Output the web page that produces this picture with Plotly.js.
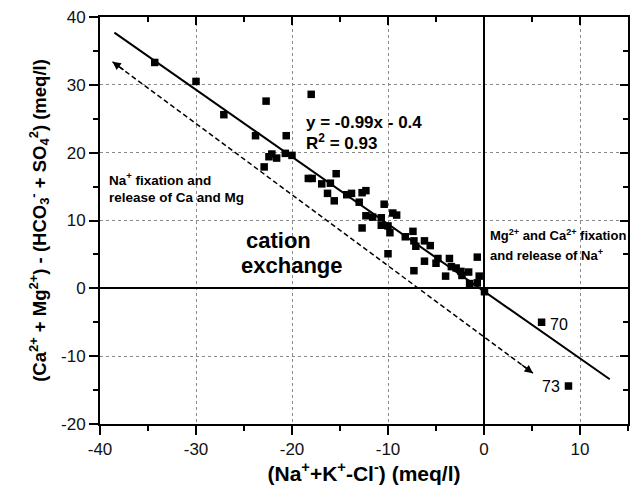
<!DOCTYPE html>
<html>
<head>
<meta charset="utf-8">
<script src="https://cdn.plot.ly/plotly-3.0.1.min.js"></script>
<style>html,body{margin:0;padding:0;background:#fff;}#chart{width:635px;height:492px;}</style>
</head>
<body>
<div id="chart"></div>
<script>
// Samples: (Na+ + K+ - Cl-) vs (Ca2+ + Mg2+) - (HCO3- + SO4 2-)
const sampleX = [-34.3,-30.0,-27.1,-22.7,-23.8,-20.6,-18.0,-22.9,-22.1,-21.6,-22.4,-20.7,-20.0,-18.3,-17.9,
  -15.4,-16.9,-16.0,-16.3,-15.6,-14.3,-13.8,-13.0,-12.7,-12.3,-10.4,-12.3,-11.6,-10.7,-9.5,-9.1,
  -10.0,-10.7,-12.7,-9.8,-8.2,-7.4,-7.3,-7.1,-6.2,-5.6,-10.0,-6.2,-7.3,-5.0,-4.8,-3.6,-3.4,-2.9,
  -4.0,-2.4,-1.6,-2.3,-0.7,-0.5,-1.5,-0.7,0.05,6.0,8.8];
const sampleY = [33.3,30.5,25.6,27.6,22.5,22.5,28.6,17.9,19.8,19.2,19.4,19.9,19.6,16.2,16.2,
  16.9,15.4,15.5,14.0,12.9,13.8,14.0,12.7,14.1,14.4,12.4,10.7,10.5,10.4,11.1,10.8,
  9.2,9.3,8.9,8.2,7.6,8.4,7.0,6.2,7.0,6.3,5.1,4.0,2.6,3.7,4.4,4.4,3.2,3.0,
  1.8,2.5,2.4,1.9,4.6,1.8,0.7,0.8,-0.5,-5.0,-14.4];

// Fitted regression line y = -0.99x - 0.4 (end points)
const fitX = [-38.5, 13.1];
const fitY = [37.7, -13.4];

// Dashed "cation exchange" double arrow (end points)
const arrowX = [-38.7, 5.1];
const arrowY = [33.4, -12.5];

// Tick labels
const xTickVals = [-40, -30, -20, -10, 0, 10];
const xTickText = ['-40', '-30', '-20', '-10', '0', '10'];
const yTickVals = [-20, -10, 0, 10, 20, 30, 40];
const yTickText = ['-20', '-10', '0', '10', '20', '30', '40'];

const FONT = '"Liberation Sans", Arial, Helvetica, sans-serif';

const traces = [
  {x: fitX, y: fitY, mode: 'lines', line: {color: '#000', width: 2}, hoverinfo: 'skip', showlegend: false},
  {x: arrowX, y: arrowY, mode: 'lines', line: {color: '#000', width: 1.5, dash: '5px,3px'}, hoverinfo: 'skip', showlegend: false},
  {x: sampleX, y: sampleY, mode: 'markers', marker: {symbol: 'square', size: 7.5, color: '#000', line: {width: 0}}, showlegend: false},
  {x: [null], y: [null], xaxis: 'x2', yaxis: 'y2', mode: 'markers', showlegend: false, hoverinfo: 'skip'}
];

const axBase = {
  showline: true, linecolor: '#000', linewidth: 2, mirror: true,
  ticks: 'outside', ticklen: 9, tickwidth: 2, tickcolor: '#000',
  showgrid: true, gridcolor: '#8a8a8a', griddash: 'dot', gridwidth: 1,
  zeroline: true, zerolinecolor: '#000', zerolinewidth: 2,
  minor: {dtick: 5, tick0: 0, ticks: 'outside', ticklen: 5, tickwidth: 2, tickcolor: '#000', showgrid: false},
  tickfont: {family: FONT, size: 17, color: '#111'},
  fixedrange: true
};

const annotations = [
  {x: -18.75, y: 24.5, xref: 'x', yref: 'y', text: '<b>y = -0.99x - 0.4</b>', showarrow: false, xanchor: 'left', yanchor: 'middle', font: {family: FONT, size: 17, color: '#000'}},
  {x: -18.75, y: 21.6, xref: 'x', yref: 'y', text: '<b>R<sup>2</sup> = 0.93</b>', showarrow: false, xanchor: 'left', yanchor: 'middle', font: {family: FONT, size: 17, color: '#000'}},
  {x: -39.3, y: 16.1, xref: 'x', yref: 'y', text: '<b>Na<sup>+</sup> fixation and</b>', showarrow: false, xanchor: 'left', yanchor: 'middle', font: {family: FONT, size: 13.5, color: '#000'}},
  {x: -39.3, y: 13.4, xref: 'x', yref: 'y', text: '<b>release of Ca and Mg</b>', showarrow: false, xanchor: 'left', yanchor: 'middle', font: {family: FONT, size: 13.5, color: '#000'}},
  {x: -21.4, y: 7.1, xref: 'x', yref: 'y', text: '<b>cation</b>', showarrow: false, xanchor: 'center', yanchor: 'middle', font: {family: FONT, size: 22, color: '#000'}},
  {x: -20.0, y: 3.4, xref: 'x', yref: 'y', text: '<b>exchange</b>', showarrow: false, xanchor: 'center', yanchor: 'middle', font: {family: FONT, size: 22, color: '#000'}},
  {x: 0.4, y: 7.8, xref: 'x', yref: 'y', text: '<b>Mg<sup>2+</sup> and Ca<sup>2+</sup> fixation</b>', showarrow: false, xanchor: 'left', yanchor: 'middle', font: {family: FONT, size: 13, color: '#000'}},
  {x: 0.4, y: 4.9, xref: 'x', yref: 'y', text: '<b>and release of Na<sup>+</sup></b>', showarrow: false, xanchor: 'left', yanchor: 'middle', font: {family: FONT, size: 13, color: '#000'}},
  {x: 6.67, y: -5.3, xref: 'x', yref: 'y', text: '70', showarrow: false, xanchor: 'left', yanchor: 'middle', font: {family: FONT, size: 16, color: '#000'}},
  {x: 8.1, y: -14.5, xref: 'x', yref: 'y', text: '73', showarrow: false, xanchor: 'right', yanchor: 'middle', font: {family: FONT, size: 16, color: '#000'}},
  // arrow heads on both ends of the dashed line
  {x: arrowX[0], y: arrowY[0], ax: arrowX[0] + 1.3, ay: arrowY[0] - 1.36, xref: 'x', yref: 'y', axref: 'x', ayref: 'y', text: '', showarrow: true, arrowhead: 2, arrowsize: 1.1, arrowwidth: 1.5, arrowcolor: '#000'},
  {x: arrowX[1], y: arrowY[1], ax: arrowX[1] - 1.3, ay: arrowY[1] + 1.36, xref: 'x', yref: 'y', axref: 'x', ayref: 'y', text: '', showarrow: true, arrowhead: 2, arrowsize: 1.1, arrowwidth: 1.5, arrowcolor: '#000'}
];

const layout = {
  width: 635, height: 492,
  margin: {l: 100, r: 7, t: 17, b: 68, pad: 0},
  paper_bgcolor: '#fff', plot_bgcolor: '#fff',
  font: {family: FONT, color: '#000'},
  showlegend: false,
  xaxis: Object.assign({}, axBase, {
    range: [-40, 15], tickmode: 'array', tickvals: xTickVals, ticktext: xTickText,
    title: {text: '<b>(Na<sup>+</sup>+K<sup>+</sup>-Cl<sup>-</sup>) (meq/l)</b>', font: {family: FONT, size: 21, color: '#000'}, standoff: 4}
  }),
  yaxis: Object.assign({}, axBase, {
    range: [-20, 40], tickmode: 'array', tickvals: yTickVals, ticktext: yTickText,
    title: {text: '<b>(Ca<sup>2+</sup> + Mg<sup>2+</sup>) - (HCO<sub>3</sub><sup>-</sup> + SO<sub>4</sub><sup>2</sup>) (meq/l)</b>', font: {family: FONT, size: 18.5, color: '#000'}, standoff: 10}
  }),
  xaxis2: {
    overlaying: 'x', side: 'top', anchor: 'y2', range: [-40, 15], dtick: 10, tick0: 0,
    ticks: 'inside', ticklen: 8, tickwidth: 2, tickcolor: '#000', showticklabels: false,
    showgrid: false, zeroline: false, showline: false, fixedrange: true,
    minor: {dtick: 5, ticks: 'inside', ticklen: 5, tickwidth: 2, tickcolor: '#000', showgrid: false}
  },
  yaxis2: {
    overlaying: 'y', side: 'right', anchor: 'x2', range: [-20, 40], dtick: 10, tick0: 0,
    ticks: 'inside', ticklen: 8, tickwidth: 2, tickcolor: '#000', showticklabels: false,
    showgrid: false, zeroline: false, showline: false, fixedrange: true,
    minor: {dtick: 5, ticks: 'inside', ticklen: 5, tickwidth: 2, tickcolor: '#000', showgrid: false}
  },
  annotations: annotations
};

Plotly.newPlot('chart', traces, layout, {displayModeBar: false, staticPlot: true});
</script>
</body>
</html>
